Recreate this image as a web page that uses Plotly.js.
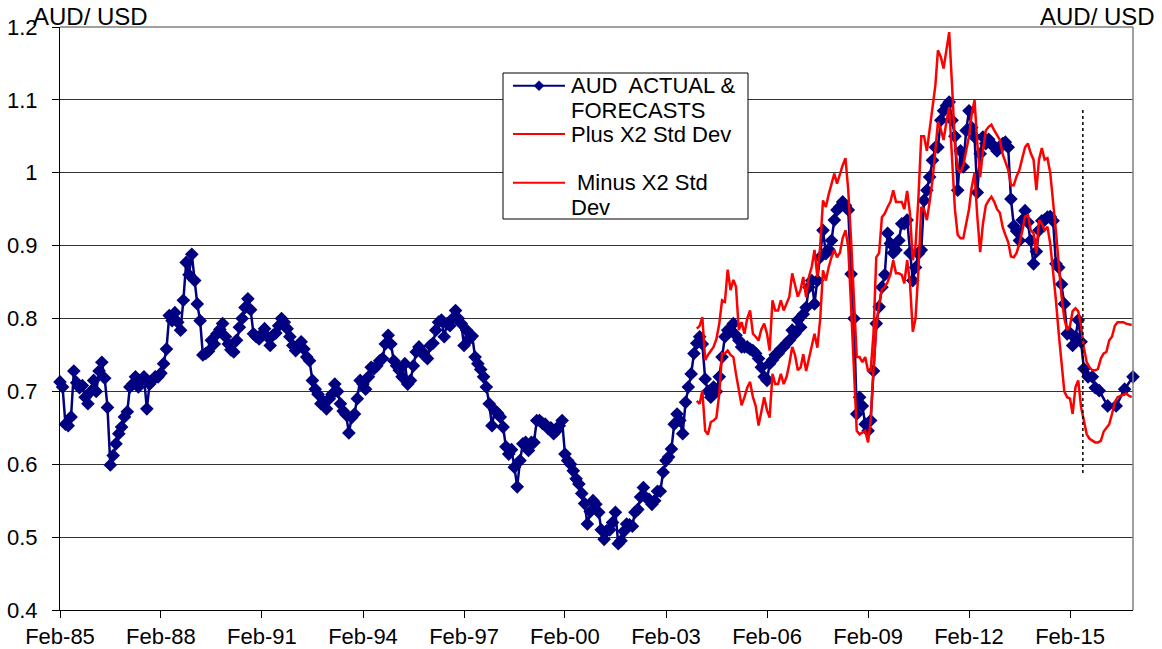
<!DOCTYPE html>
<html>
<head>
<meta charset="utf-8">
<script src="https://cdn.plot.ly/plotly-3.0.1.min.js"></script>
<style>html,body{margin:0;padding:0;background:#fff}</style>
</head>
<body>
<div id="chart" style="width:1162px;height:649px"></div>
<script>
// AUD/USD monthly, Feb-1985 .. Jun-2015 (one value per month)
const actualStart = [1985, 2];
const audActual = [
  0.713, 0.706, 0.655, 0.653, 0.665, 0.728, 0.712, 0.705, 0.708, 0.692, 0.683,            // 1985 Feb-Dec
  0.700, 0.715, 0.700, 0.728, 0.740, 0.718, 0.678, 0.599, 0.612, 0.628, 0.642, 0.651,     // 1986
  0.665, 0.672, 0.706, 0.710, 0.720, 0.706, 0.715, 0.720, 0.676, 0.710, 0.715, 0.720,     // 1987
  0.720, 0.725, 0.738, 0.758, 0.804, 0.797, 0.808, 0.795, 0.784, 0.825, 0.877, 0.860,     // 1988
  0.888, 0.852, 0.820, 0.797, 0.750, 0.752, 0.755, 0.770, 0.765, 0.779, 0.785, 0.793,     // 1989
  0.775, 0.765, 0.757, 0.754, 0.770, 0.788, 0.800, 0.815, 0.827, 0.812, 0.779, 0.775,     // 1990
  0.772, 0.779, 0.786, 0.775, 0.763, 0.777, 0.780, 0.790, 0.800, 0.795, 0.786, 0.775,     // 1991
  0.763, 0.756, 0.760, 0.768, 0.758, 0.747, 0.742, 0.715, 0.703, 0.696, 0.683, 0.686,     // 1992
  0.676, 0.690, 0.696, 0.710, 0.700, 0.683, 0.673, 0.668, 0.643, 0.664, 0.669, 0.690,     // 1993
  0.715, 0.710, 0.703, 0.720, 0.733, 0.731, 0.735, 0.742, 0.745, 0.765, 0.777, 0.765,     // 1994
  0.742, 0.735, 0.729, 0.720, 0.738, 0.710, 0.715, 0.735, 0.754, 0.761, 0.755, 0.749,     // 1995
  0.745, 0.763, 0.766, 0.784, 0.795, 0.798, 0.775, 0.793, 0.790, 0.800, 0.811, 0.800,     // 1996
  0.793, 0.763, 0.784, 0.772, 0.776, 0.747, 0.738, 0.730, 0.720, 0.706, 0.683, 0.653,     // 1997
  0.674, 0.670, 0.665, 0.651, 0.624, 0.614, 0.620, 0.596, 0.569, 0.605, 0.628, 0.630,     // 1998
  0.619, 0.630, 0.630, 0.660, 0.660, 0.656, 0.655, 0.649, 0.650, 0.642, 0.646, 0.653,     // 1999
  0.660, 0.614, 0.605, 0.600, 0.591, 0.580, 0.573, 0.560, 0.546, 0.518, 0.535, 0.550,     // 2000
  0.545, 0.534, 0.510, 0.497, 0.509, 0.510, 0.520, 0.534, 0.491, 0.495, 0.508, 0.518,     // 2001
  0.517, 0.515, 0.534, 0.538, 0.555, 0.568, 0.554, 0.552, 0.545, 0.550, 0.563, 0.563,     // 2002
  0.589, 0.605, 0.610, 0.621, 0.655, 0.669, 0.660, 0.642, 0.685, 0.706, 0.724, 0.752,     // 2003
  0.766, 0.775, 0.765, 0.717, 0.700, 0.692, 0.706, 0.700, 0.720, 0.747, 0.775, 0.784,     // 2004
  0.784, 0.793, 0.777, 0.770, 0.761, 0.761, 0.761, 0.758, 0.756, 0.752, 0.745, 0.733,     // 2005
  0.720, 0.715, 0.738, 0.743, 0.750, 0.752, 0.758, 0.761, 0.766, 0.770, 0.784, 0.779,     // 2006
  0.798, 0.788, 0.806, 0.815, 0.843, 0.852, 0.820, 0.852, 0.884, 0.921, 0.889, 0.895,     // 2007
  0.907, 0.935, 0.949, 0.953, 0.960, 0.955, 0.949, 0.861, 0.800, 0.669, 0.692, 0.680,     // 2008
  0.655, 0.646, 0.660, 0.728, 0.793, 0.816, 0.843, 0.860, 0.917, 0.903, 0.890, 0.894,     // 2009
  0.907, 0.930, 0.930, 0.935, 0.890, 0.852, 0.870, 0.889, 0.894, 0.962, 0.976, 0.994,     // 2010
  1.017, 1.035, 1.035, 1.072, 1.085, 1.092, 1.097, 1.072, 1.050, 0.976, 1.030, 1.008,     // 2011
  1.058, 1.085, 1.062, 1.049, 0.973, 1.026, 1.049, 1.040, 1.046, 1.040, 1.035, 1.030,     // 2012
  1.035, 1.040, 1.042, 1.035, 0.964, 0.927, 0.920, 0.907, 0.935, 0.948, 0.932, 0.907,     // 2013
  0.875, 0.892, 0.921, 0.934, 0.935, 0.939, 0.940, 0.934, 0.875, 0.870, 0.847, 0.820,     // 2014
  0.779, 0.780, 0.763, 0.775, 0.798, 0.768                                                // 2015 Jan-Jun
];

// Forecast path after the cut-off
const forecastDates = ['2015-07-01', '2015-08-15', '2015-10-01', '2015-11-01', '2015-12-15',
                       '2016-03-15', '2016-06-15', '2016-09-15', '2016-12-15'];
const forecastValues = [0.731, 0.720, 0.720, 0.705, 0.701, 0.680, 0.680, 0.703, 0.720];

// Two-standard-deviation band, monthly Jan-2004 .. Dec-2016
const bandStart = [2004, 1];
const bandUpper = [
  0.786, 0.790, 0.802, 0.743, 0.750, 0.756, 0.761, 0.772, 0.793, 0.825, 0.823, 0.867,   // 2004
  0.839, 0.853, 0.844, 0.784, 0.795, 0.779, 0.800, 0.811, 0.779, 0.775, 0.770, 0.785,   // 2005
  0.793, 0.779, 0.756, 0.825, 0.811, 0.811, 0.825, 0.811, 0.820, 0.830, 0.862, 0.848,   // 2006
  0.830, 0.840, 0.857, 0.829, 0.857, 0.871, 0.894, 0.857, 0.900, 0.962, 0.953, 0.970,   // 2007
  0.985, 0.999, 0.985, 0.999, 1.010, 1.020, 0.976, 0.907, 0.825, 0.747, 0.747, 0.740,   // 2008
  0.747, 0.728, 0.728, 0.780, 0.884, 0.890, 0.939, 0.944, 0.953, 0.960, 0.976, 0.960,   // 2009
  0.960, 0.960, 0.950, 0.975, 0.945, 0.880, 0.900, 0.965, 1.050, 1.050, 1.030, 1.060,   // 2010
  1.086, 1.120, 1.168, 1.159, 1.143, 1.170, 1.193, 1.120, 1.040, 1.005, 1.000, 1.010,   // 2011
  1.030, 1.050, 1.080, 1.100, 1.040, 0.994, 1.030, 1.058, 1.063, 1.066, 1.058, 1.052,   // 2012
  1.045, 1.025, 1.015, 1.004, 0.983, 0.983, 0.995, 1.004, 1.020, 1.035, 1.040, 1.027,   // 2013
  1.018, 0.976, 1.018, 1.034, 1.018, 1.020, 1.000, 0.963, 0.920, 0.875, 0.830, 0.800,   // 2014
  0.784, 0.790, 0.810, 0.814, 0.810, 0.790, 0.760, 0.740, 0.733, 0.729, 0.729, 0.731,   // 2015
  0.745, 0.752, 0.754, 0.770, 0.775, 0.790, 0.795, 0.795, 0.795, 0.793, 0.792, 0.791    // 2016
];
const bandLower = [
  0.687, 0.683, 0.701, 0.646, 0.641, 0.658, 0.660, 0.664, 0.697, 0.752, 0.752, 0.756,   // 2004
  0.750, 0.747, 0.724, 0.700, 0.681, 0.692, 0.705, 0.713, 0.692, 0.680, 0.653, 0.672,   // 2005
  0.692, 0.674, 0.664, 0.724, 0.710, 0.710, 0.724, 0.710, 0.720, 0.738, 0.761, 0.750,   // 2006
  0.729, 0.733, 0.751, 0.728, 0.745, 0.760, 0.779, 0.760, 0.800, 0.866, 0.852, 0.870,   // 2007
  0.884, 0.894, 0.884, 0.890, 0.910, 0.921, 0.898, 0.816, 0.724, 0.646, 0.641, 0.643,   // 2008
  0.646, 0.630, 0.660, 0.730, 0.788, 0.820, 0.840, 0.843, 0.850, 0.860, 0.880, 0.862,   // 2009
  0.862, 0.860, 0.848, 0.880, 0.850, 0.782, 0.800, 0.866, 0.953, 0.950, 0.935, 0.960,   // 2010
  0.990, 1.030, 1.070, 1.060, 1.045, 1.070, 1.090, 1.020, 0.950, 0.915, 0.910, 0.910,   // 2011
  0.930, 0.950, 0.980, 1.000, 0.940, 0.891, 0.930, 0.955, 0.962, 0.967, 0.960, 0.950,   // 2012
  0.945, 0.925, 0.915, 0.905, 0.885, 0.884, 0.890, 0.903, 0.920, 0.940, 0.942, 0.921,   // 2013
  0.917, 0.889, 0.935, 0.930, 0.921, 0.926, 0.903, 0.866, 0.825, 0.780, 0.740, 0.700,   // 2014
  0.692, 0.690, 0.669, 0.706, 0.715, 0.678, 0.660, 0.641, 0.635, 0.632, 0.630, 0.630,   // 2015
  0.632, 0.645, 0.650, 0.655, 0.669, 0.685, 0.692, 0.694, 0.695, 0.697, 0.694, 0.692    // 2016
];

// Vertical marker separating actuals from forecasts
const cutoffDates = ['2015-06-20', '2015-06-20'];
const cutoffRange = [0.588, 1.086];

// Axis ticks
const xTickDates = ['1985-02-01', '1988-02-01', '1991-02-01', '1994-02-01', '1997-02-01', '2000-02-01',
                    '2003-02-01', '2006-02-01', '2009-02-01', '2012-02-01', '2015-02-01'];
const xTickLabels = ['Feb-85', 'Feb-88', 'Feb-91', 'Feb-94', 'Feb-97', 'Feb-00',
                     'Feb-03', 'Feb-06', 'Feb-09', 'Feb-12', 'Feb-15'];
const yTicks = [0.4, 0.5, 0.6, 0.7, 0.8, 0.9, 1.0, 1.1, 1.2];
const yTickLabels = ['0.4', '0.5', '0.6', '0.7', '0.8', '0.9', '1', '1.1', '1.2'];
const xRange = ['1985-02-01', '2016-12-15'];
const yRange = [0.4, 1.2];

const legendLabels = ['AUD\u00a0 ACTUAL &', 'FORECASTS', 'Plus X2 Std Dev', 'Minus X2 Std', 'Dev'];

function monthlyDates(start, count) {
  const out = [];
  for (let i = 0; i < count; i++) {
    const t = start[1] - 1 + i;
    const y = start[0] + Math.floor(t / 12);
    const m = (t % 12) + 1;
    out.push(y + '-' + String(m).padStart(2, '0') + '-01');
  }
  return out;
}

const actualDates = monthlyDates(actualStart, audActual.length);
const bandDates = monthlyDates(bandStart, bandUpper.length);

const FONT = 'Liberation Sans, Arial, Helvetica, sans-serif';
const NAVY = '#000080';
const RED = '#ff0000';

const traces = [
  {
    x: actualDates.concat(forecastDates),
    y: audActual.concat(forecastValues),
    type: 'scatter', mode: 'lines+markers',
    line: {color: NAVY, width: 2.5},
    marker: {symbol: 'diamond', size: 10.5, color: NAVY},
    cliponaxis: false,
    hoverinfo: 'x+y'
  },
  {
    x: bandDates, y: bandUpper, type: 'scatter', mode: 'lines',
    line: {color: RED, width: 2.5}
  },
  {
    x: bandDates, y: bandLower, type: 'scatter', mode: 'lines',
    line: {color: RED, width: 2.5}
  },
  {
    x: cutoffDates, y: cutoffRange, type: 'scatter', mode: 'lines',
    line: {color: '#000', width: 1.5, dash: 'dot'}
  }
];

// paper-coordinate helpers for the 1073x583 plot box (left 60, top 27)
const PX = px => (px - 60) / 1073;
const PY = py => (610 - py) / 583;

const shapes = [
  // top and right frame edges
  {type: 'line', xref: 'paper', yref: 'paper', x0: 0, x1: 1, y0: 1, y1: 1, line: {color: '#808080', width: 1.5}},
  {type: 'line', xref: 'paper', yref: 'paper', x0: 1, x1: 1, y0: 0, y1: 1, line: {color: '#808080', width: 1.5}},
  // legend box
  {type: 'rect', xref: 'paper', yref: 'paper', x0: PX(503), x1: PX(748), y0: PY(219), y1: PY(73),
   fillcolor: '#fff', line: {color: '#000', width: 1}},
  {type: 'line', xref: 'paper', yref: 'paper', x0: PX(513), x1: PX(565), y0: PY(85.7), y1: PY(85.7),
   line: {color: NAVY, width: 2}},
  {type: 'path', xref: 'paper', yref: 'paper', xsizemode: 'pixel', ysizemode: 'pixel',
   xanchor: PX(539), yanchor: PY(85.7), path: 'M0,5L5,0L0,-5L-5,0Z',
   fillcolor: NAVY, line: {color: NAVY, width: 0.5}},
  {type: 'line', xref: 'paper', yref: 'paper', x0: PX(513), x1: PX(565), y0: PY(134), y1: PY(134),
   line: {color: RED, width: 2}},
  {type: 'line', xref: 'paper', yref: 'paper', x0: PX(513), x1: PX(565), y0: PY(182.7), y1: PY(182.7),
   line: {color: RED, width: 2}}
];

function note(text, x, y, xanchor, size) {
  return {text: text, xref: 'paper', yref: 'paper', x: x, y: y, xanchor: xanchor, yanchor: 'middle',
          showarrow: false, font: {family: FONT, size: size, color: '#000'}, borderpad: 0, borderwidth: 0};
}

const annotations = [
  note('AUD/ USD', PX(33), PY(16), 'left', 24),
  note('AUD/ USD', PX(1155), PY(16), 'right', 24),
  note(legendLabels[0], PX(571), PY(85.3), 'left', 22),
  note(legendLabels[1], PX(571), PY(110.5), 'left', 22),
  note(legendLabels[2], PX(571), PY(134.2), 'left', 22),
  note(legendLabels[3], PX(577), PY(182.8), 'left', 22),
  note(legendLabels[4], PX(571), PY(208), 'left', 22)
];

const layout = {
  width: 1162, height: 649,
  margin: {l: 60, r: 29, t: 27, b: 39, pad: 0},
  paper_bgcolor: '#fff', plot_bgcolor: '#fff',
  showlegend: false,
  font: {family: FONT, size: 22, color: '#000'},
  xaxis: {
    type: 'date', range: xRange,
    tickmode: 'array', tickvals: xTickDates, ticktext: xTickLabels,
    showgrid: false, zeroline: false,
    showline: true, linecolor: '#000', linewidth: 1,
    ticks: 'outside', ticklen: 7, tickcolor: '#000', tickwidth: 1,
    tickfont: {family: FONT, size: 22, color: '#000'},
    ticklabelstandoff: 0
  },
  yaxis: {
    range: yRange,
    tickmode: 'array', tickvals: yTicks, ticktext: yTickLabels,
    showgrid: true, gridcolor: '#333', gridwidth: 1, zeroline: false,
    showline: true, linecolor: '#000', linewidth: 1,
    ticks: 'outside', ticklen: 7, tickcolor: '#000', tickwidth: 1,
    tickfont: {family: FONT, size: 22, color: '#000'},
    ticklabelstandoff: 10
  },
  shapes: shapes,
  annotations: annotations
};

Plotly.newPlot('chart', traces, layout, {displayModeBar: false, staticPlot: true});
</script>
</body>
</html>
